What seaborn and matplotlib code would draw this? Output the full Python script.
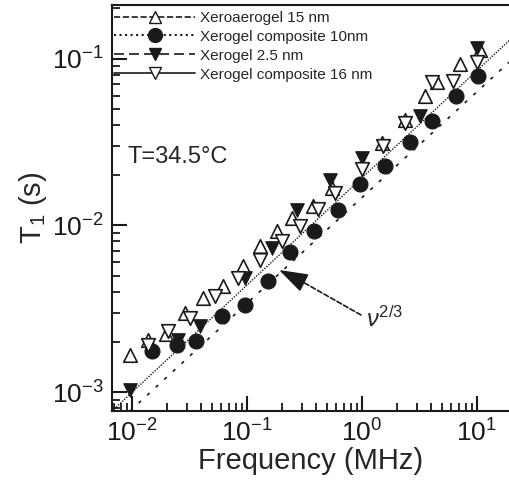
import numpy as np
import pandas as pd
import matplotlib
matplotlib.use("Agg")
import matplotlib.pyplot as plt
from matplotlib.lines import Line2D
from matplotlib.ticker import LogLocator, NullFormatter
import seaborn as sns

# data (frequency in MHz, T1 in s)
f_15 = [0.0096, 0.0138, 0.0198, 0.0289, 0.0414, 0.0618, 0.0923, 0.130, 0.182,
        0.246, 0.375, 0.548, 1.49, 2.37, 3.53, 4.49, 7.11, 10.6]
t_15 = [1.67e-3, 2.05e-3, 2.22e-3, 2.97e-3, 3.66e-3, 4.31e-3, 5.68e-3, 7.48e-3,
        9.21e-3, 1.10e-2, 1.30e-2, 1.67e-2, 3.10e-2, 4.26e-2, 6.0e-2, 7.28e-2,
        9.33e-2, 0.112]

f_c10 = [0.0149, 0.0246, 0.0360, 0.0606, 0.0961, 0.152, 0.236, 0.383, 0.618,
         0.96, 1.58, 2.61, 4.06, 6.56, 10.2]
t_c10 = [1.76e-3, 1.91e-3, 2.02e-3, 2.85e-3, 3.32e-3, 4.62e-3, 6.89e-3, 9.21e-3,
         1.23e-2, 1.76e-2, 2.26e-2, 3.18e-2, 4.25e-2, 6.0e-2, 7.9e-2]

f_25 = [0.0096, 0.0251, 0.039, 0.096, 0.165, 0.272, 0.527, 1.0, 3.19, 10.0]
t_25 = [1.03e-3, 2.05e-3, 2.48e-3, 4.82e-3, 7.28e-3, 1.23e-2, 1.86e-2, 2.52e-2,
        4.5e-2, 0.115]

f_c16 = [0.0138, 0.0206, 0.0319, 0.0527, 0.0835, 0.130, 0.202, 0.289, 0.414,
         0.582, 1.0, 1.52, 2.37, 4.06, 6.18, 10.0]
t_c16 = [1.91e-3, 2.32e-3, 2.77e-3, 3.76e-3, 4.82e-3, 6.17e-3, 8.02e-3, 9.86e-3,
         1.26e-2, 1.56e-2, 2.19e-2, 2.97e-2, 4.08e-2, 7.28e-2, 7.38e-2, 9.6e-2]

# nu^(2/3) guide lines (end points)
fit_f = [0.0067, 19.0]
fit_upper = [7.7e-4, 0.128]
fit_f2 = [0.0096, 19.0]
fit_lower = [7.7e-4, 0.095]

labels = ["Xeroaerogel 15 nm", "Xerogel composite 10nm",
          "Xerogel 2.5 nm", "Xerogel composite 16 nm"]

sns.set_theme(style="ticks")
plt.rcParams["font.family"] = ["Liberation Sans", "DejaVu Sans"]
plt.rcParams["mathtext.fontset"] = "custom"
plt.rcParams["mathtext.rm"] = "Liberation Sans"
plt.rcParams["mathtext.it"] = "Liberation Sans:italic"

fig = plt.figure(figsize=(5.09, 4.83), dpi=100)
ax = fig.add_axes([0.22, 0.149, 0.78, 0.841])

sns.lineplot(x=fit_f, y=fit_upper, ax=ax, color="k", lw=1.0,
             linestyle=(0, (1, 1)))
sns.lineplot(x=fit_f2, y=fit_lower, ax=ax, color="k", lw=1.2,
             linestyle=(0, (2, 5)))

ms = 95
sns.scatterplot(x=f_15, y=t_15, ax=ax, marker="^", s=ms, facecolor="white",
                edgecolor="k", linewidth=1.2, zorder=3)
sns.scatterplot(x=f_c10, y=t_c10, ax=ax, marker="o", s=ms + 20, color="k",
                edgecolor="k", zorder=3)
sns.scatterplot(x=f_25, y=t_25, ax=ax, marker="v", s=ms, color="k",
                edgecolor="k", zorder=3)
sns.scatterplot(x=f_c16, y=t_c16, ax=ax, marker="v", s=ms, facecolor="white",
                edgecolor="k", linewidth=1.2, zorder=3)

ax.set_xscale("log")
ax.set_yscale("log")
ax.set_xlim(0.0067, 19)
ax.set_ylim(7.7e-4, 0.21)

ax.xaxis.set_major_locator(LogLocator(base=10, numticks=10))
ax.xaxis.set_minor_locator(LogLocator(base=10, subs=np.arange(2, 10), numticks=20))
ax.yaxis.set_major_locator(LogLocator(base=10, numticks=10))
ax.yaxis.set_minor_locator(LogLocator(base=10, subs=np.arange(2, 10), numticks=20))
ax.xaxis.set_minor_formatter(NullFormatter())
ax.yaxis.set_minor_formatter(NullFormatter())

ax.tick_params(which="major", direction="in", length=11, width=1.5,
               labelsize=19, pad=6, colors="k")
ax.tick_params(which="minor", direction="in", length=6, width=1.3, colors="k")
ax.tick_params(top=False, right=False, which="both")
ax.spines["right"].set_visible(False)
for s in ["left", "bottom", "top"]:
    ax.spines[s].set_linewidth(1.5)
    ax.spines[s].set_color("k")

ax.set_xlabel("Frequency (MHz)", fontsize=21, labelpad=0)
ax.set_ylabel("T$_1$ (s)", fontsize=21, labelpad=2)

ax.text(0.04, 0.625, "T=34.5°C", transform=ax.transAxes, fontsize=17,
        va="center", ha="left")
# dashed shaft plus solid head
ax.annotate("", xy=(0.25, 4.95e-3), xytext=(0.98, 2.9e-3),
            xycoords="data", textcoords="data",
            arrowprops=dict(arrowstyle="-", color="k", lw=1.2,
                            linestyle=(0, (3, 1.5)), shrinkA=0, shrinkB=0))
ax.annotate("", xy=(0.19, 5.4e-3), xytext=(0.30, 4.6e-3),
            xycoords="data", textcoords="data",
            arrowprops=dict(arrowstyle="-|>,head_length=0.9,head_width=0.3",
                            color="k", lw=1.2, mutation_scale=20,
                            shrinkA=0, shrinkB=0))
ax.text(1.08, 2.75e-3, r"$\nu^{2/3}$", fontsize=17, ha="left", va="center")

handles = [
    Line2D([], [], color="k", ls="--", lw=1.2, marker="^", ms=9,
           mfc="white", mec="k"),
    Line2D([], [], color="k", ls=":", lw=1.5, marker="o", ms=10,
           mfc="k", mec="k"),
    Line2D([], [], color="k", ls=(0, (6, 3)), lw=1.2, marker="v", ms=9,
           mfc="k", mec="k"),
    Line2D([], [], color="k", ls="-", lw=1.2, marker="v", ms=9,
           mfc="white", mec="k"),
]
ax.legend(handles, labels, loc="upper left", bbox_to_anchor=(-0.01, 1.0),
          frameon=False, fontsize=11, handlelength=5.3, handletextpad=0.3,
          labelspacing=0.32, borderaxespad=0.2, borderpad=0.2)

fig.savefig("out.png", dpi=100)
